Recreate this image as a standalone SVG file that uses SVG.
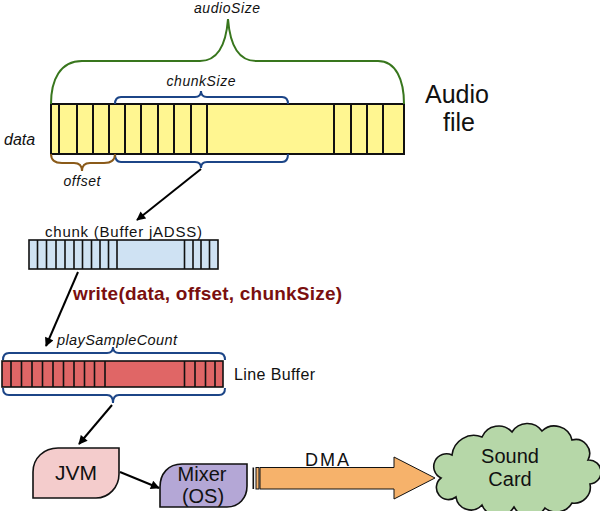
<svg xmlns="http://www.w3.org/2000/svg" width="600" height="511" viewBox="0 0 600 511">
<defs>
<marker id="ah" viewBox="0 0 10 10" refX="9" refY="5" markerWidth="5" markerHeight="4.5" orient="auto" markerUnits="strokeWidth">
<path d="M0,0 L10,5 L0,10 z" fill="#000"/>
</marker>
<style>
text{font-family:"Liberation Sans",Arial,sans-serif;fill:#111}
.it{font-style:italic}
.cell{stroke:#111;stroke-width:2}
.cell2{stroke:#111;stroke-width:1.6}
.brace{fill:none;stroke-width:2}
.conn{fill:none;stroke:#000;stroke-width:2;marker-end:url(#ah)}
.shape{stroke:#111;stroke-width:1.6}
</style>
</defs>
<rect width="600" height="511" fill="#fff"/>

<g id="data-bar">
<rect x="51" y="104" width="353" height="50" fill="#fff691" stroke="#111" stroke-width="2"/>
<path class="cell" d="M59,104V154M77,104V154M93,104V154M109,104V154M125,104V154M141,104V154M158,104V154M174,104V154M191,104V154M207,104V154M334,104V154M351,104V154M367,104V154M383,104V154"/>
<text class="it" x="4" y="145" font-size="16">data</text>
</g>

<g id="audio-size">
<path class="brace" stroke="#38761d" d="M51,104 C51,80 60,61 82,61 L200,61 C218,61 226,45 228,19 C230,45 238,61 256,61 L378,61 C396,61 404,80 404,104"/>
<text class="it" x="227" y="13" font-size="14" text-anchor="middle" textLength="66">audioSize</text>
</g>

<g id="chunk-size">
<path class="brace" stroke="#1c4587" d="M115,104 C115,99 117,97 121,97 L195,97 C199,97 201,95 201,91 C201,95 203,97 207,97 L282,97 C286,97 288,99 288,104"/>
<path class="brace" stroke="#1c4587" d="M115,154 C115,159 117,162 121,162 L195,162 C199,162 201,164 201,168 C201,164 203,162 207,162 L282,162 C286,162 288,159 288,154"/>
<text class="it" x="201" y="86" font-size="14" text-anchor="middle" textLength="69">chunkSize</text>
</g>

<g id="offset">
<path class="brace" stroke="#8a5a19" d="M51,154 C51,160 55,163 62,163 L74,163 C79,163 82,166 82,171 C82,166 85,163 90,163 L104,163 C111,163 115,160 115,154"/>
<text class="it" x="82" y="186" font-size="14" text-anchor="middle" textLength="37">offset</text>
</g>

<g id="audio-file">
<text x="457" y="103" font-size="25" text-anchor="middle">Audio</text>
<text x="459" y="131" font-size="25" text-anchor="middle">file</text>
</g>

<g id="chunk">
<rect x="29" y="240" width="189" height="29" fill="#cfe2f3" stroke="#111" stroke-width="1.6"/>
<path class="cell2" d="M37.5,240V269M46.5,240V269M56,240V269M65,240V269M74,240V269M82.5,240V269M91.5,240V269M100,240V269M108.5,240V269M117,240V269M184.5,240V269M193,240V269M201,240V269M209.5,240V269"/>
<text x="45" y="237" font-size="15" textLength="157" lengthAdjust="spacing">chunk (Buffer jADSS)</text>
</g>

<g id="write-label">
<text x="73" y="300" font-size="19" font-weight="bold" style="fill:#7a0f0f" textLength="269" lengthAdjust="spacing">write(data, offset, chunkSize)</text>
</g>

<g id="line-buffer">
<rect x="2" y="361" width="221" height="26" fill="#e06666" stroke="#111" stroke-width="1.6"/>
<path class="cell2" d="M11,361V387M21.5,361V387M32,361V387M42.5,361V387M53,361V387M63.5,361V387M74,361V387M84.5,361V387M94.5,361V387M105,361V387M184.5,361V387M195,361V387M205.5,361V387M215,361V387"/>
<path class="brace" stroke="#1c4587" stroke-width="1.6" d="M3,360 C3,355 5,353 9,353 L107,353 C111,353 113,351 113,347 C113,351 115,353 119,353 L219,353 C223,353 225,355 225,360"/>
<path class="brace" stroke="#1c4587" stroke-width="1.6" d="M3,388 C3,393 5,395 9,395 L107,395 C111,395 113,397 113,403 C113,397 115,395 119,395 L219,395 C223,395 225,393 225,388"/>
<text class="it" x="57" y="345" font-size="14.5" textLength="120">playSampleCount</text>
<text x="234" y="380" font-size="16" textLength="81">Line Buffer</text>
</g>

<g id="jvm">
<path class="shape" fill="#f4cccc" d="M33,472 C33,458 44,448 58,448 L119,448 L119,474 C119,487 109,498 96,498 L33,498 Z"/>
<text x="76" y="480" font-size="21" text-anchor="middle">JVM</text>
</g>

<g id="mixer">
<path class="shape" fill="#b4a7d6" d="M160,487 C160,474 168,464 182,464 L247,464 L247,486 C247,498 239,507 227,507 L160,507 Z"/>
<text x="202" y="481" font-size="20" text-anchor="middle">Mixer</text>
<text x="203" y="503" font-size="20" text-anchor="middle">(OS)</text>
</g>

<g id="dma">
<rect x="252.5" y="467.5" width="1.6" height="21.5" fill="#111"/>
<rect x="256" y="467.5" width="3" height="21.5" fill="#f6b26b" stroke="#111" stroke-width="1"/>
<path fill="#f6b26b" stroke="#111" stroke-width="1" d="M260,467.5 L394,467.5 L394,457 L435,478 L394,499 L394,489 L260,489 Z"/>
<text x="305" y="466" font-size="18" textLength="44">DMA</text>
</g>

<g id="sound-card">
<path class="shape" fill="#b6d7a8" d="M441,478 A12,12 0 0 1 452,455 A22,22 0 0 1 482,437 A18,18 0 0 1 512,432 A18,18 0 0 1 542,431 A18,18 0 0 1 572,440 A14,14 0 0 1 588,460 A12,12 0 0 1 590,484 A16,16 0 0 1 572,503 A18,18 0 0 1 545,508 A18,18 0 0 1 514,507 A18,18 0 0 1 482,505 A15,15 0 0 1 456,497 A12,12 0 0 1 441,478 Z"/>
<text x="510" y="463" font-size="20" text-anchor="middle">Sound</text>
<text x="510" y="486" font-size="20" text-anchor="middle">Card</text>
</g>

<g id="connectors">
<path class="conn" d="M201,169 L137,220"/>
<path class="conn" d="M78,272 L46,346"/>
<path class="conn" d="M112,405 L79,444"/>
<path class="conn" d="M120,472 L159,488"/>
</g>
</svg>
